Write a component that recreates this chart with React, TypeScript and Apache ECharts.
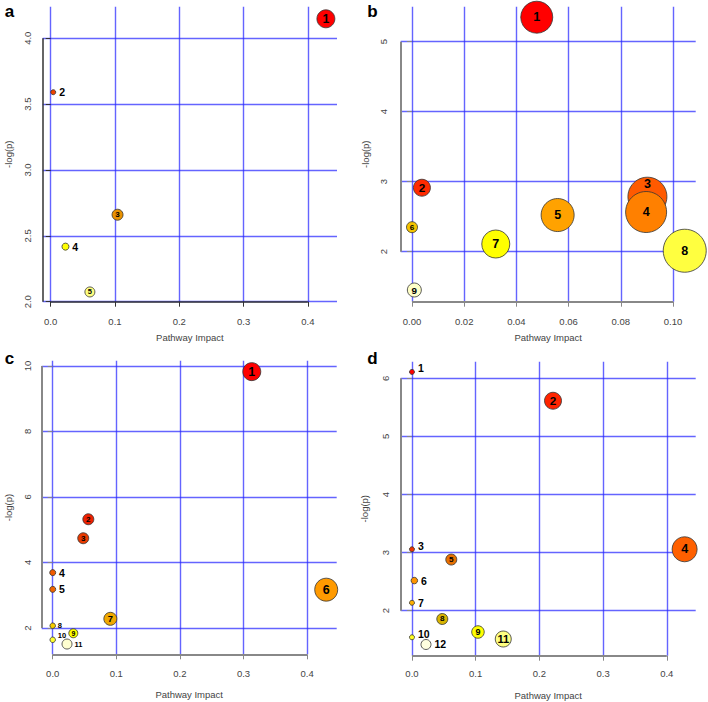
import React, { useEffect, useRef } from "react";
import * as echarts from "echarts";

// ---------- Panel a ----------
const aImpact = [0.428, 0.004, 0.104, 0.023, 0.061];
const aLogP = [4.147, 3.59, 2.66, 2.418, 2.074];
const aSize = [18, 5, 11, 7, 10];
const aColor = ["#ff0000", "#ee4400", "#ea9200", "#ffff00", "#ffff80"];
const aLabel = ["in", "r", "in", "r", "in"];
const aXTicks = [0, 0.1, 0.2, 0.3, 0.4];
const aYTicks = [2.0, 2.5, 3.0, 3.5, 4.0];

// ---------- Panel b ----------
const bImpact = [0.0478, 0.0038, 0.0902, 0.0897, 0.0558, 0.0, 0.0321, 0.1045, 0.0009];
const bLogP = [5.35, 2.914, 2.786, 2.567, 2.524, 2.35, 2.11, 2.014, 1.453];
const bSize = [32, 17, 39, 41, 33, 11, 28, 43, 14];
const bColor = ["#ff0000", "#ff2a00", "#ff5a00", "#ff8000", "#ffa200", "#f5c400", "#ffff00", "#ffff40", "#ffffc8"];
const bLabel = ["in", "in", "inu", "in", "in", "in", "in", "in", "in"];
const bXTicks = [0, 0.02, 0.04, 0.06, 0.08, 0.1];
const bYTicks = [2, 3, 4, 5];

// ---------- Panel c ----------
const cImpact = [0.313, 0.056, 0.048, 0, 0, 0.43, 0.0906, 0, 0.0324, 0, 0.0225];
const cLogP = [9.826, 5.32, 4.74, 3.69, 3.18, 3.17, 2.28, 2.07, 1.84, 1.64, 1.51];
const cSize = [18, 11, 11, 6, 6, 23, 13, 5.5, 9, 5.5, 10];
const cColor = ["#ff0000", "#ee2000", "#e83a00", "#f05a00", "#f06400", "#ff9a00", "#f0a800", "#f5cc00", "#ffff00", "#ffff30", "#ffffd0"];
const cLabel = ["in", "in", "in", "r", "r", "in", "in", "rs", "in", "rsu", "rs"];
const cXTicks = [0, 0.1, 0.2, 0.3, 0.4];
const cYTicks = [2, 4, 6, 8, 10];

// ---------- Panel d ----------
const dImpact = [0, 0.2214, 0, 0.428, 0.0617, 0.0037, 0, 0.0476, 0.1036, 0, 0.1433, 0.022];
const dLogP = [6.11, 5.614, 3.057, 3.057, 2.88, 2.518, 2.136, 1.857, 1.633, 1.542, 1.512, 1.418];
const dSize = [5, 17, 5, 25, 11, 6.5, 5, 11, 12.5, 5, 16, 10];
const dColor = ["#ff0000", "#ff2400", "#f03400", "#ff6000", "#e87000", "#ff9400", "#ffb000", "#d8b400", "#ffff00", "#ffff20", "#ffff80", "#ffffe0"];
const dLabel = ["ru", "in", "ru", "in", "in", "r", "r", "in", "in", "ru", "in", "r"];
const dXTicks = [0, 0.1, 0.2, 0.3, 0.4];
const dYTicks = [2, 3, 4, 5, 6];

const panels = [
  {
    letter: "a", impact: aImpact, logp: aLogP, size: aSize, color: aColor, label: aLabel,
    xTicks: aXTicks, yTicks: aYTicks, xDec: 1, yDec: 1,
    grid: { left: 42.7, top: 6.7, width: 294.3, height: 295 },
    xMin: -0.0124, xMax: 0.4453, yMin: 2.0, yMax: 4.239,
    axisColor: "#333", axisWidth: 1.5,
    xLabelMargin: 15, xNameGap: 31, yLabelMargin: 10, yNameGap: 29,
    letterPos: [9.5, 11],
  },
  {
    letter: "b", impact: bImpact, logp: bLogP, size: bSize, color: bColor, label: bLabel,
    xTicks: bXTicks, yTicks: bYTicks, xDec: 2, yDec: 0,
    grid: { left: 400.7, top: 6.7, width: 295, height: 295 },
    xMin: -0.00433, xMax: 0.1087, yMin: 1.286, yMax: 5.5,
    axisColor: "#888", axisWidth: 2,
    xLabelMargin: 15, xNameGap: 31, yLabelMargin: 12, yNameGap: 30,
    letterPos: [372.5, 11],
  },
  {
    letter: "c", impact: cImpact, logp: cLogP, size: cSize, color: cColor, label: cLabel,
    xTicks: cXTicks, yTicks: cYTicks, xDec: 1, yDec: 0,
    grid: { left: 41.7, top: 360.7, width: 295, height: 293.6 },
    xMin: -0.0173, xMax: 0.4465, yMin: 1.197, yMax: 10.16,
    axisColor: "#888", axisWidth: 2,
    xLabelMargin: 14, xNameGap: 35, yLabelMargin: 9, yNameGap: 28,
    letterPos: [9.5, 358],
  },
  {
    letter: "d", impact: dImpact, logp: dLogP, size: dSize, color: dColor, label: dLabel,
    xTicks: dXTicks, yTicks: dYTicks, xDec: 1, yDec: 0,
    grid: { left: 400.7, top: 361.7, width: 295, height: 294 },
    xMin: -0.0177, xMax: 0.4454, yMin: 1.225, yMax: 6.286,
    axisColor: "#888", axisWidth: 2,
    xLabelMargin: 13, xNameGap: 35, yLabelMargin: 10, yNameGap: 31,
    letterPos: [372.5, 358],
  },
];

const GRID_BLUE = "rgba(40,40,255,0.72)";
const TEXT_GRAY = "#444";
const LABEL_FONT = "Liberation Sans";

function labelFor(mode: string, d: number) {
  const base = { show: true, color: "#000", fontFamily: LABEL_FONT, fontWeight: "bold" as const };
  if (mode === "in" || mode === "inu") {
    const fs = Math.min(12.5, Math.max(6.5, d * 0.6 + 1.5));
    return { ...base, position: "inside", fontSize: fs, offset: mode === "inu" ? [0, -13] : [0, 0] };
  }
  if (mode === "rs" || mode === "rsu") {
    return { ...base, position: "right", distance: 2, fontSize: 7.5, offset: mode === "rsu" ? [0, -4] : [0, 0] };
  }
  return { ...base, position: "right", distance: 3, fontSize: 10.5, offset: mode === "ru" ? [0, -3.5] : [0, 0] };
}

export default function App() {
  const ref = useRef<HTMLDivElement>(null);
  useEffect(() => {
    if (!ref.current) return;
    const chart = echarts.init(ref.current, null, { renderer: "svg" });
    const option: any = {
      animation: false,
      backgroundColor: "#ffffff",
      grid: panels.map((p) => ({ ...p.grid, containLabel: false, outerBoundsMode: "none" })),
      xAxis: panels.map((p, i) => ({
        type: "value",
        gridIndex: i,
        min: p.xMin,
        max: p.xMax,
        axisLine: { show: false },
        axisTick: { show: true, length: 5, customValues: p.xTicks, lineStyle: { color: p.axisColor, width: 1 } },
        axisLabel: {
          customValues: p.xTicks,
          formatter: (v: number) => v.toFixed(p.xDec),
          fontSize: 9.5, color: TEXT_GRAY, fontFamily: "Liberation Sans", margin: p.xLabelMargin,
        },
        splitLine: { show: true, lineStyle: { color: GRID_BLUE, width: 1.4 } },
        name: "Pathway Impact",
        nameLocation: "middle",
        nameGap: p.xNameGap,
        nameTextStyle: { fontSize: 9.5, color: TEXT_GRAY, fontFamily: "Liberation Sans" },
      })),
      yAxis: panels.map((p, i) => ({
        type: "value",
        gridIndex: i,
        min: p.yMin,
        max: p.yMax,
        axisLine: { show: false },
        axisTick: { show: true, length: 5, customValues: p.yTicks, lineStyle: { color: p.axisColor, width: 1 } },
        axisLabel: {
          customValues: p.yTicks,
          formatter: (v: number) => v.toFixed(p.yDec),
          rotate: 90,
          fontSize: 9.5, color: TEXT_GRAY, fontFamily: "Liberation Sans", margin: p.yLabelMargin,
        },
        splitLine: { show: true, lineStyle: { color: GRID_BLUE, width: 1.4 } },
        name: "-log(p)",
        nameLocation: "middle",
        nameGap: p.yNameGap,
        nameTextStyle: { fontSize: 9.5, color: TEXT_GRAY, fontFamily: "Liberation Sans" },
      })),
      series: panels.map((p, i) => ({
        type: "scatter",
        xAxisIndex: i,
        yAxisIndex: i,
        clip: false,
        symbol: "circle",
        data: p.impact.map((x, k) => ({
          value: [x, p.logp[k]],
          name: String(k + 1),
          symbolSize: p.size[k],
          itemStyle: { color: p.color[k], borderColor: "#333", borderWidth: 0.8, opacity: 1 },
          label: { ...labelFor(p.label[k], p.size[k]), formatter: String(k + 1) },
        })),
        markLine: {
          silent: true,
          symbol: ["none", "none"],
          label: { show: false },
          lineStyle: { color: p.axisColor, width: p.axisWidth, type: "solid", opacity: 1 },
          data: [
            [{ coord: [p.xTicks[0], p.yMin] }, { coord: [p.xTicks[p.xTicks.length - 1], p.yMin] }],
            [{ coord: [p.xMin, p.yTicks[0]] }, { coord: [p.xMin, p.yTicks[p.yTicks.length - 1]] }],
          ],
        },
      })),
      graphic: panels.map((p) => ({
        type: "text",
        x: p.letterPos[0],
        y: p.letterPos[1],
        style: {
          text: p.letter,
          font: "bold 17px 'Liberation Sans'",
          fill: "#000",
          textAlign: "center",
          textVerticalAlign: "middle",
        },
      })),
    };
    chart.setOption(option);
    return () => chart.dispose();
  }, []);
  return (
    <div
      ref={ref}
      style={{ position: "absolute", left: 0, top: 0, width: 708, height: 702 }}
    />
  );
}
